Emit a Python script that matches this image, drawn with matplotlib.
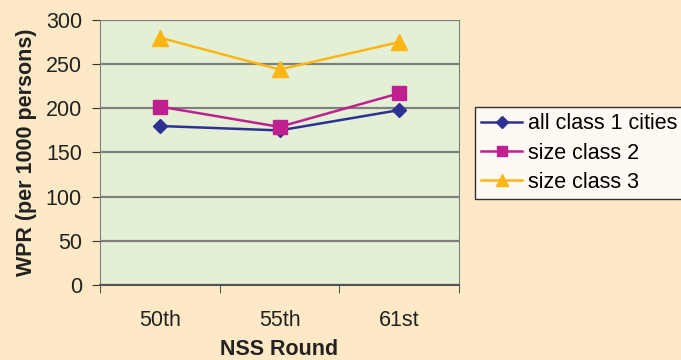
import matplotlib
matplotlib.use("Agg")
import matplotlib.pyplot as plt
import numpy as np

rounds = ["50th", "55th", "61st"]
all_class1 = [180, 175, 198]
size_class2 = [202, 179, 217]
size_class3 = [280, 244, 275]
series_names = ["all class 1 cities", "size class 2", "size class 3"]
yticks = [0, 50, 100, 150, 200, 250, 300]

FS = 15.5
plt.rcParams['font.family'] = ['Liberation Sans', 'DejaVu Sans']
fig = plt.figure(figsize=(6.81, 3.6), dpi=100)
fig.patch.set_facecolor("#FDE9C5")
ax = fig.add_axes([100/681, 75/360, 359/681, 265/360])
ax.set_facecolor("#E3F0D5")

x = np.arange(len(rounds))
ax.plot(x, all_class1, color="#2E3192", marker="D", markersize=7.5, lw=1.8, label=series_names[0], zorder=3)
ax.plot(x, size_class2, color="#BF1F8F", marker="s", markersize=10, lw=1.8, label=series_names[1], zorder=3)
ax.plot(x, size_class3, color="#FBB615", marker="^", markersize=11, lw=1.8, label=series_names[2], zorder=3)

ax.set_xlim(-0.5, 2.5)
ax.set_ylim(0, 300)
ax.set_yticks(yticks)
ax.set_yticklabels([str(v) for v in yticks], fontsize=FS, color="#222222")
ax.set_xticks(x)
ax.set_xticklabels(rounds, fontsize=FS, color="#222222")
ax.set_xticks([-0.5, 0.5, 1.5, 2.5], minor=True)
ax.tick_params(axis='x', which='major', length=0, pad=18)
ax.tick_params(axis='x', which='minor', length=6, color="#333333")
ax.tick_params(axis='y', length=6, color="#333333", pad=7)
ax.grid(axis='y', color="#7F7F7F", lw=1.6, zorder=1)
ax.set_axisbelow(True)
ax.spines["top"].set_visible(False)
ax.spines["left"].set_color("#808080")
ax.spines["right"].set_color("#808080")
ax.spines["bottom"].set_color("#555555")
ax.spines["bottom"].set_linewidth(1.5)

ax.set_xlabel("NSS Round", fontsize=FS, fontweight="bold", labelpad=6, color="#222222")
ax.set_ylabel("WPR (per 1000 persons)", fontsize=FS, fontweight="bold", labelpad=6, color="#222222")

leg = fig.legend(loc="upper left", bbox_to_anchor=(475/681, 1 - 107/360), fontsize=FS,
                 frameon=True, fancybox=False, edgecolor="black", facecolor="white",
                 handlelength=1.9, borderpad=0.3, labelspacing=0.38, handletextpad=0.25,
                 markerscale=0.75, borderaxespad=0)
leg.get_frame().set_linewidth(1.0)

fig.savefig("out.png", dpi=100, facecolor=fig.get_facecolor())
